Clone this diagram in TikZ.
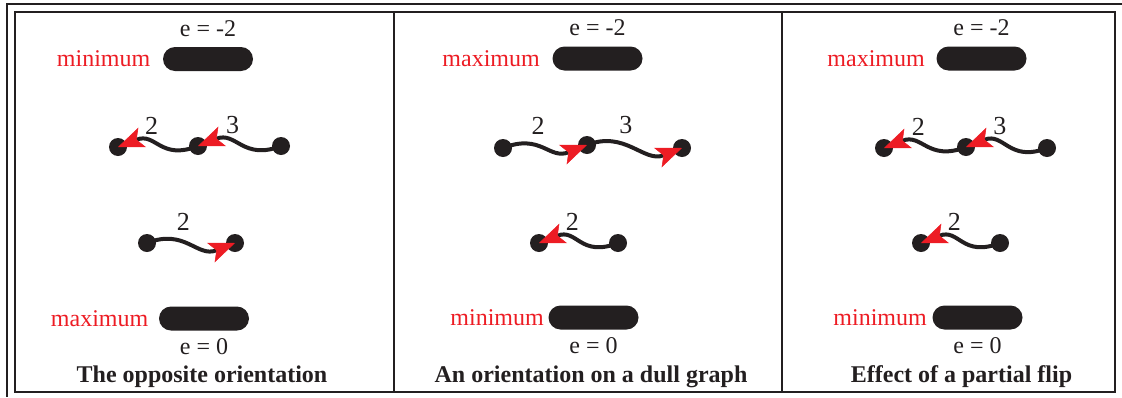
\documentclass[tikz,border=0pt]{standalone}
\usepackage{fontspec}
\setmainfont{Liberation Serif}
\usetikzlibrary{arrows.meta, positioning}

\definecolor{ink}{HTML}{231F20}
\definecolor{flag}{HTML}{ED1C24}

\tikzset{
  dot/.style={circle, fill=ink, inner sep=0pt, minimum size=18pt},
  bar/.style={rectangle, rounded corners=12pt, fill=ink, minimum width=90pt, minimum height=24pt},
  tag/.style={text=flag},
  lbl/.style={text=ink, pos=.4, above=5pt, font=\fontsize{26}{30}\selectfont},
  wave/.style={line width=4pt, draw=ink, to path={.. controls +(38,-15) and +(-38,15) .. (\tikztotarget) \tikztonodes}},
  fwd/.style={-{Stealth[length=26pt, width=21pt, inset=6pt, line width=0.5pt, color=flag]}},
  bwd/.style={{Stealth[length=26pt, width=21pt, inset=6pt, line width=0.5pt, color=flag]}-},
}

\begin{document}
\begin{tikzpicture}[x=1pt, y=-1pt, font=\fontsize{24}{28}\selectfont, text=ink]
  \useasboundingbox (0,0) rectangle (1122,397);

  % frames
  \draw[ink, line width=2pt] (1122,4) -- (7,4) -- (7,397);
  \draw[ink, line width=2.2pt] (15,12) rectangle (1115,392);
  \draw[ink, line width=2.2pt] (394,12) -- (394,392);
  \draw[ink, line width=2.2pt] (782,12) -- (782,392);

  % panel 1
  \node[bar] (barAt) at (208,59) {};
  \node[above=7pt of barAt] (eAt) {e = -2};
  \node[tag, left=9pt of barAt] (tAt) {minimum};
  \node[dot] (a1) at (118,147) {};
  \node[dot] (a2) at (198,146) {};
  \node[dot] (a3) at (281,146) {};
  \node[dot] (a4) at (147,243) {};
  \node[dot] (a5) at (235,243) {};
  \path (a1.center) edge[wave, bwd] node[lbl] {2} (a2.center)
        (a2.center) edge[wave, bwd] node[lbl] {3} (a3.center)
        (a4.center) edge[wave, fwd] node[lbl] {2} (a5.center);
  \node[bar] (barAb) at (204,318.5) {};
  \node[tag, left=7pt of barAb] (tAb) {maximum};
  \node[below=4pt of barAb] (eAb) {e = 0};
  \node[anchor=base] (capA) at (202,382) {\textbf{The opposite orientation}};

  % panel 2
  \node[bar] (barBt) at (597.5,58.5) {};
  \node[above=7pt of barBt] (eBt) {e = -2};
  \node[tag, left=9pt of barBt] (tBt) {maximum};
  \node[dot] (b1) at (503,148) {};
  \node[dot] (b2) at (587,145) {};
  \node[dot] (b3) at (682,148) {};
  \node[dot] (b4) at (539,243) {};
  \node[dot] (b5) at (618,243) {};
  \path (b1.center) edge[wave, fwd] node[lbl] {2} (b2.center)
        (b2.center) edge[wave, fwd] node[lbl] {3} (b3.center)
        (b4.center) edge[wave, bwd] node[lbl] {2} (b5.center);
  \node[bar] (barBb) at (593.5,317.5) {};
  \node[tag, left=1pt of barBb] (tBb) {minimum};
  \node[below=4pt of barBb] (eBb) {e = 0};
  \node[anchor=base] (capB) at (591,382) {\textbf{An orientation on a dull graph}};

  % panel 3
  \node[bar] (barCt) at (981.5,58.5) {};
  \node[above=7pt of barCt] (eCt) {e = -2};
  \node[tag, left=8pt of barCt] (tCt) {maximum};
  \node[dot] (c1) at (884,148) {};
  \node[dot] (c2) at (966,147) {};
  \node[dot] (c3) at (1047,148) {};
  \node[dot] (c4) at (921,243) {};
  \node[dot] (c5) at (1000,243) {};
  \path (c1.center) edge[wave, bwd] node[lbl] {2} (c2.center)
        (c2.center) edge[wave, bwd] node[lbl] {3} (c3.center)
        (c4.center) edge[wave, bwd] node[lbl] {2} (c5.center);
  \node[bar] (barCb) at (977.5,317.5) {};
  \node[tag, left=2pt of barCb] (tCb) {minimum};
  \node[below=4pt of barCb] (eCb) {e = 0};
  \node[anchor=base] (capC) at (961.5,382) {\textbf{Effect of a partial flip}};
\end{tikzpicture}
\end{document}
